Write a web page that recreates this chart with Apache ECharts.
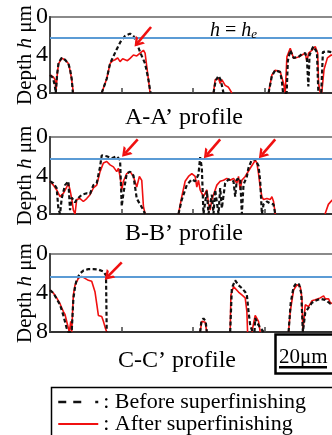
<!DOCTYPE html>
<html><head><meta charset="utf-8">
<script src="https://cdn.jsdelivr.net/npm/echarts@6/dist/echarts.min.js"></script>
<style>html,body{margin:0;padding:0;background:#fff}#c{width:332px;height:435px}</style>
</head><body><div id="c"></div>
<script>
// ---- data (x in µm, depth h in µm) ----
const yTicks = [0, 4, 8];
const xTickStep = 30;
const panelTitles = ['A-A\u2019 profile', 'B-B\u2019 profile', 'C-C\u2019 profile'];
const seriesNames = ['Before superfinishing', 'After superfinishing'];
const heLevels = [2.2, 2.25, 2.3];
const scaleBarLabel = '20\u03bcm';

const aAfter = [
  [[0,6.1],[1.4,6.3],[2.1,6.6],[2.5,7.9],[3.1,5.9],[3.6,4.9],[4.9,4.35],[6.3,4.5],[7.7,4.9],[8.4,5.6],[9.1,6.6],[9.8,8]],
  [[21.7,8],[23.8,6.5],[25.2,4.9],[26.3,4.6],[27.3,4.5],[28.4,4.3],[29.4,4.7],[30.5,4.4],[31.5,4.5],[32.5,4.6],[33.6,4.35],[35.0,4.0],[36.4,4.1],[37.8,3.8],[38.5,3.9],[39.2,3.5],[39.9,3.8],[40.6,5.2],[41.3,6.6],[42.0,8]],
  [[68.6,8],[69.3,6.6],[70.7,6.45],[71.4,7.0],[72.1,6.6],[73.5,7.2],[74.9,7.4],[75.6,7.2],[76.3,8]],
  [[91.7,8],[93.1,6.1],[94.5,5.6],[96.6,5.75],[98.0,7.0],[98.7,8],[99.4,4.2],[100.8,3.3],[102.2,4.35],[104.3,4.2],[105.7,4.0],[107.1,3.8],[107.8,4.7],[108.5,3.8],[109.9,3.5],[111.3,3.1],[112.3,3.8],[112.7,7.0],[113.4,8]],
  [[114.0,8],[115.0,5.5],[116.4,4.3],[118.0,4.0],[120,4.1]]
];
const aBefore = [
  [[0,6.1],[1.2,6.4],[2.0,7.2],[2.4,8],[3.0,6.0],[3.6,4.8],[4.9,4.3],[6.3,4.5],[7.7,4.9],[8.4,5.5],[9.1,6.5],[9.6,8]],
  [[21.7,8],[23.8,6.5],[25.2,4.9],[26.3,4.3],[28.0,3.4],[29.6,2.6],[31.5,2.0],[33.6,1.75],[35.0,2.0],[36.4,2.7],[37.8,3.7],[39.9,4.9],[41.3,6.6],[42.2,8]],
  [[68.6,8],[69.5,6.7],[70.7,6.2],[71.6,6.6],[72.8,8]],
  [[91.7,8],[93.1,6.2],[94.5,5.6],[96.6,5.8],[97.3,6.8],[97.8,8],[99.3,8],[99.8,4.6],[100.8,3.5],[102.2,4.3],[104.3,4.2],[105.7,3.9],[107.1,3.8],[107.8,4.4],[108.4,7.3],[108.9,4.0],[109.9,3.4],[110.5,3.1],[111.3,3.3],[112.0,3.7],[112.6,8]],
  [[113.8,8],[114.5,3.7],[116.1,3.6],[118,3.7],[120,3.8]]
];
const bAfter = [
  [[0,4.6],[1.4,5.0],[2.8,5.5],[4.2,6.2],[5.6,5.85],[7.0,5.2],[7.7,4.8],[8.4,5.5],[9.1,6.4],[9.8,7.6],[10.5,8],[11.2,6.5],[12.6,6.4],[14.0,6.7],[15.4,6.4],[16.8,6.0],[18.2,5.3],[19.6,5.0],[21.0,3.6],[22.4,2.7],[23.8,2.55],[25.2,2.9],[26.6,3.1],[28.0,3.6],[28.7,3.25],[29.4,4.1],[30.1,5.5],[30.8,4.6],[32.2,3.8],[33.6,3.6],[35.0,4.1],[36.4,5.2],[37.5,4.1],[38.5,4.5],[39.2,7.2],[39.9,8]],
  [[53.9,8],[55.3,6.2],[56.7,4.6],[58.1,4.1],[59.5,3.8],[60.2,3.7],[60.9,4.1],[61.6,5.2],[62.3,4.5],[63.0,5.5],[64.4,6.2],[65.8,5.5],[66.5,6.9],[67.2,7.6],[67.9,6.5],[69.3,5.5],[70.0,5.0],[71.4,4.6],[72.8,4.5],[74.2,4.3],[75.6,4.5],[77.0,4.3],[78.4,4.8],[79.1,4.1],[79.8,5.5],[80.5,4.5],[81.9,4.1],[82.6,4.3],[84.0,3.25],[85.4,2.7],[86.1,2.4],[86.8,2.7],[87.5,3.8],[88.2,5.2],[88.9,6.2],[89.6,6.5],[91.0,6.4],[92.4,6.5],[93.1,6.2],[93.8,6.7],[94.5,8]],
  [[115.4,8],[116.8,7.0],[118.2,6.6],[120,6.2]]
];
const bBefore = [
  [[0,4.6],[1.4,4.8],[2.8,5.3],[3.5,7.4],[4.2,8],[4.9,6.4],[6.3,5.0],[7.7,4.6],[8.4,7.6],[9.1,6.3],[10.5,6.8],[11.2,6.5],[13.3,6.0],[15.4,5.85],[16.8,5.9],[18.2,5.0],[19.6,4.8],[21.0,3.1],[21.7,1.9],[23.8,2.0],[25.9,2.2],[28.0,2.0],[29.4,2.4],[30.1,7.2],[30.8,5.85],[32.2,3.8],[33.6,3.6],[35.0,4.0],[36.4,6.4],[37.8,7.0],[39.2,7.6],[39.9,8]],
  [[53.9,8],[55.3,6.5],[56.0,6.4],[57.4,5.0],[59.5,4.4],[60.9,4.6],[62.3,3.9],[63.0,2.1],[63.7,3.2],[64.4,8],[65.8,5.6],[66.5,8],[67.9,6.0],[68.6,8],[69.3,5.5],[70.7,8],[71.4,5.3],[72.1,7.4],[73.5,4.8],[74.9,4.4],[77.0,4.6],[77.7,6.2],[78.4,4.4],[79.8,4.3],[80.5,8],[81.2,4.95],[82.6,4.1],[83.3,3.2],[84.7,2.35],[86.1,2.3],[87.5,3.0],[88.2,4.6],[88.9,8],[89.6,7.0],[91.0,6.7],[92.4,6.9],[93.8,7.0],[94.5,8]]
];
const cAfter = [
  [[0,3.7],[1.4,4.0],[2.8,4.5],[4.2,5.1],[5.6,5.9],[6.3,6.2],[7.0,6.1],[7.7,7.6],[8.1,8],[8.7,6.9],[9.1,8],[9.8,4.2],[10.5,3.2],[11.9,2.5],[13.3,2.3],[14.7,2.5],[16.1,2.7],[17.5,2.8],[18.9,3.9],[19.6,5.1],[20.3,6.3],[21.0,6.3],[21.7,6.4],[22.4,6.9],[23.1,7.5],[23.8,8]],
  [[63.0,8],[63.7,6.9],[64.4,6.8],[65.1,7.0],[65.8,8]],
  [[75.6,8],[75.9,4.2],[77.0,3.35],[77.7,3.5],[79.1,3.9],[80.5,4.2],[81.9,4.5],[82.6,5.9],[82.9,8]],
  [[84.7,8],[86.1,6.3],[87.5,6.9],[88.2,8]],
  [[100.1,8],[100.8,5.9],[102.2,3.7],[103.6,3.15],[105.0,3.35],[105.7,4.5],[106.1,8],[107.1,5.2],[107.8,5.3],[108.5,5.4],[109.9,4.8],[111.3,4.7],[113.4,4.5],[114.8,4.3],[115.5,4.6],[116.9,4.6],[117.6,5.0],[120,5.2]]
];
const cBefore = [
  [[0,3.7],[1.4,4.0],[2.8,4.6],[4.2,5.2],[5.6,6.3],[7.0,7.6],[7.7,8],[9.1,8],[9.8,4.6],[10.5,3.4],[11.2,2.6],[12.6,2.0],[14.0,1.7],[16.1,1.55],[18.2,1.55],[20.3,1.6],[22.4,1.8],[23.5,2.2],[23.8,8]],
  [[63.0,8],[63.5,6.9],[64.4,6.6],[65.3,6.9],[65.8,8]],
  [[75.6,8],[76.3,3.5],[77.7,2.7],[79.1,3.2],[80.5,3.5],[81.9,3.9],[82.6,4.2],[83.3,5.9],[84.0,7.3],[85.0,8]],
  [[85.8,8],[86.1,6.6],[87.5,7.3],[89.6,8]],
  [[100.1,8],[101.0,5.0],[102.2,3.4],[103.3,3.0],[104.5,3.1],[105.4,4.0],[106.1,8],[107.1,6.0],[108.5,5.5],[109.9,5.0],[111.3,4.8],[113.4,4.6],[115.5,4.7],[117.6,5.1],[120,5.3]]
];
// red arrows: [from, to] in (µm, depth)
const arrowsA = [[[42.4,1.05],[36.7,2.75]]];
const arrowsB = [[[36.8,0.25],[31.5,1.7]], [[71.4,0.25],[65.8,1.85]], [[94.5,0.25],[88.9,1.85]]];
const arrowsC = [[[30.1,0.85],[24.3,2.3]]];

// ---- build ----
const SERIF = 'Liberation Serif';
const RED = '#f01010';
const BLACK = '#111111';
const BLUE = '#5b9bd5';
const chevron = 'path://M5,0 L10,9 L7.6,9 L5,4.2 L2.4,9 L0,9 Z';

function joinSegs(segs) {
  const out = [];
  segs.forEach((s, i) => { if (i > 0) out.push([s[0][0], '-']); s.forEach(p => out.push(p)); });
  return out;
}

const grids = [
  {left: 50, right: -4, top: 17, height: 76},
  {left: 50, right: -4, top: 137, height: 77},
  {left: 50, right: -4, top: 254, height: 78}
].map(g => Object.assign(g, {show: true, borderColor: '#8a8a8a', borderWidth: 2, backgroundColor: 'transparent', containLabel: false, outerBoundsMode: 'none'}));

const panels = [[aBefore, aAfter, arrowsA], [bBefore, bAfter, arrowsB], [cBefore, cAfter, arrowsC]];

const xAxes = grids.map((g, i) => ({
  type: 'value', gridIndex: i, min: 0, max: 120, interval: xTickStep,
  axisLine: {show: true, onZero: false, lineStyle: {color: '#333', width: 2}},
  axisTick: {show: true, inside: true, length: 5, lineStyle: {color: '#444', width: 1.5}},
  axisLabel: {show: false}, splitLine: {show: false}
}));
const yAxes = grids.map((g, i) => ({
  type: 'value', gridIndex: i, min: yTicks[0], max: yTicks[yTicks.length - 1], interval: yTicks[1] - yTicks[0], inverse: true,
  axisLine: {show: true, lineStyle: {color: '#444', width: 2}},
  axisTick: {show: false},
  axisLabel: {show: true, margin: 2, color: '#000', fontFamily: SERIF, fontSize: 24},
  splitLine: {show: false},
  name: '{r|Depth }{i|h}{r| \u03bcm}', nameLocation: 'middle', nameRotate: 90, nameGap: 14, nameMoveOverlap: false,
  nameTextStyle: {color: '#000', fontFamily: SERIF, fontSize: 21,
    rich: {r: {fontFamily: SERIF, fontSize: 21, color: '#000'}, i: {fontFamily: SERIF, fontSize: 21, fontStyle: 'italic', color: '#000'}}}
}));

const series = [];
panels.forEach((p, i) => {
  const [before, after, arrows] = p;
  const mlData = [{yAxis: heLevels[i], symbol: 'none', lineStyle: {color: BLUE, width: 2, type: 'solid'}}];
  arrows.forEach(a => {
    mlData.push([
      {coord: a[0], symbol: 'none', lineStyle: {color: RED, width: 2.6, type: 'solid'}},
      {coord: a[1], symbol: chevron, symbolSize: [12, 9]}
    ]);
  });
  series.push({
    name: seriesNames[1], type: 'line', xAxisIndex: i, yAxisIndex: i,
    data: joinSegs(after), showSymbol: false, symbol: 'none', connectNulls: false,
    lineStyle: {color: RED, width: 1.6}, itemStyle: {color: RED},
    markLine: {silent: true, symbol: ['none', 'none'], label: {show: false}, animation: false, data: mlData, emphasis: {disabled: true}}
  });
  series.push({
    name: seriesNames[0], type: 'line', xAxisIndex: i, yAxisIndex: i,
    data: joinSegs(before), showSymbol: false, symbol: 'none', connectNulls: false,
    lineStyle: {color: BLACK, width: 2.2, type: [4, 2.5]}, itemStyle: {color: BLACK}
  });
});

const titleTops = [106, 222, 349];
const titleLefts = [125, 125, 118];
const titles = panelTitles.map((t, i) => ({
  text: t, left: titleLefts[i], top: titleTops[i], padding: 0,
  textStyle: {fontFamily: SERIF, fontSize: 24, fontWeight: 'normal', color: '#000'}
}));
titles.push({
  text: '{i|h} = {i|h}{s|e}', left: 210, top: 20, padding: 0,
  textStyle: {fontFamily: SERIF, fontSize: 20, fontWeight: 'normal', color: '#000',
    rich: {i: {fontFamily: SERIF, fontSize: 20, fontStyle: 'italic', color: '#000'},
           s: {fontFamily: SERIF, fontSize: 13, fontStyle: 'italic', color: '#000', verticalAlign: 'bottom', padding: [8, 0, 0, 0]}}}
});

const option = {
  animation: false,
  backgroundColor: '#fff',
  title: titles,
  grid: grids,
  xAxis: xAxes,
  yAxis: yAxes,
  series: series,
  legend: {
    orient: 'vertical', left: 57, top: 391, padding: 0, itemGap: 0,
    itemWidth: 40, itemHeight: 14, selectedMode: false,
    formatter: ': {name}',
    itemStyle: {opacity: 0, borderWidth: 0},
    textStyle: {fontFamily: SERIF, fontSize: 22, color: '#000', lineHeight: 21},
    data: [
      {name: seriesNames[0], itemStyle: {opacity: 0, borderWidth: 0}, lineStyle: {color: BLACK, width: 2.5, type: [8, 7, 8, 14, 3, 40]}},
      {name: seriesNames[1], itemStyle: {opacity: 0, borderWidth: 0}, lineStyle: {color: RED, width: 2, type: 'solid'}}
    ]
  },
  graphic: [
    {type: 'rect', left: 49, top: 385, shape: {width: 300, height: 60}, style: {fill: 'none', stroke: '#000', lineWidth: 1.5}, z: 1},
    {type: 'rect', left: 273, top: 332, shape: {width: 80, height: 39}, style: {fill: 'none', stroke: '#000', lineWidth: 2.5}, z: 1},
    {type: 'text', left: 279, top: 347, style: {text: scaleBarLabel, font: '21px "Liberation Serif"', fill: '#000'}, z: 2},
    {type: 'rect', left: 279, top: 366, shape: {width: 48, height: 2.5}, style: {fill: '#000'}, z: 2}
  ]
};

const chart = echarts.init(document.getElementById('c'), null, {renderer: 'canvas'});
chart.setOption(option);
</script></body></html>
